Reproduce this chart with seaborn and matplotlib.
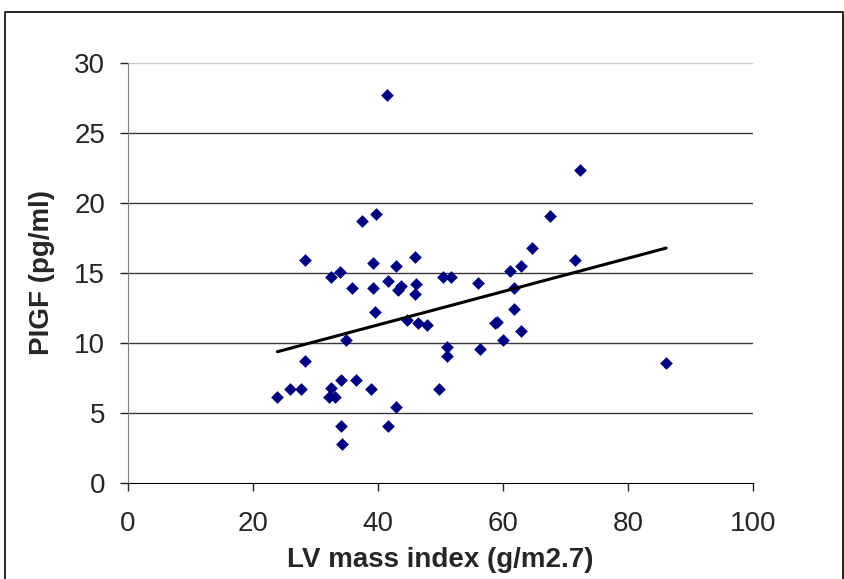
import numpy as np
import pandas as pd
import matplotlib
matplotlib.use("Agg")
import matplotlib.pyplot as plt
import seaborn as sns

# data
lv_mass = [23.9, 25.9, 27.7, 28.3, 28.3, 32.2, 33.1, 32.5, 32.5, 33.9,
           34.0, 34.0, 34.2, 34.9, 35.9, 36.4, 37.5, 38.8, 39.2, 39.2,
           39.5, 39.7, 41.4, 41.6, 41.6, 42.8, 42.8, 43.2, 43.7, 44.7,
           45.9, 45.9, 46.1, 46.4, 47.9, 49.8, 50.4, 51.0, 51.0, 51.7,
           56.0, 56.4, 58.8, 59.0, 60.0, 61.2, 61.8, 61.8, 62.9, 62.9,
           64.6, 67.5, 71.5, 72.3, 86.1]
pigf = [6.15, 6.7, 6.7, 8.7, 15.9, 6.15, 6.15, 6.75, 14.7, 15.1,
        7.35, 4.1, 2.8, 10.2, 13.9, 7.35, 18.75, 6.7, 13.9, 15.7,
        12.2, 19.2, 27.7, 14.45, 4.1, 15.5, 5.4, 13.75, 14.05, 11.65,
        16.15, 13.5, 14.2, 11.4, 11.3, 6.7, 14.7, 9.7, 9.1, 14.7,
        14.25, 9.55, 11.4, 11.5, 10.2, 15.15, 13.95, 12.4, 15.5, 10.85,
        16.8, 19.05, 15.9, 22.35, 8.55]
x_ticks = [0, 20, 40, 60, 80, 100]
y_ticks = [0, 5, 10, 15, 20, 25, 30]

df = pd.DataFrame({"LV": lv_mass, "PIGF": pigf})

sns.set_style("white")
plt.rcParams["font.family"] = ["Liberation Sans", "DejaVu Sans"]

fig = plt.figure(figsize=(8.45, 5.79), dpi=100)
ax = fig.add_axes([0.1515, 0.166, 0.7396, 0.725])

# outer frame (open at the bottom)
fig.add_artist(plt.Line2D([0.006, 0.006, 0.998, 0.998], [0.0, 0.979, 0.979, 0.0],
                          transform=fig.transFigure, color="black", lw=1.2))

for yv in y_ticks[1:]:
    ax.axhline(yv, color="#3a3a3a" if yv < 30 else "#c8c8c8", lw=1.0, zorder=1)

sns.scatterplot(data=df, x="LV", y="PIGF", ax=ax, marker="D", s=42,
                color="#000080", edgecolor="#000080", linewidth=0, zorder=3)

# linear trend line over the data range
slope, icpt = np.polyfit(df["LV"], df["PIGF"], 1)
xs = np.array([df["LV"].min(), df["LV"].max()])
ax.plot(xs, slope * xs + icpt, color="black", lw=2.2, zorder=4)

ax.set_xlim(0, 100)
ax.set_ylim(0, 30)
ax.set_xticks(x_ticks)
ax.set_yticks(y_ticks)
ax.tick_params(axis="both", labelsize=20, length=5.5, width=1, direction="out",
               left=True, bottom=True)
ax.tick_params(axis="y", pad=11)
ax.tick_params(axis="x", pad=15)
ax.spines["top"].set_visible(False)
ax.spines["right"].set_visible(False)
ax.spines["left"].set_color("#808080")
ax.spines["bottom"].set_color("black")
ax.set_xlabel("LV mass index (g/m2.7)", fontsize=20, fontweight="bold", labelpad=7)
ax.set_ylabel("PIGF (pg/ml)", fontsize=20, fontweight="bold", labelpad=14)

fig.savefig("out.png", dpi=100)
